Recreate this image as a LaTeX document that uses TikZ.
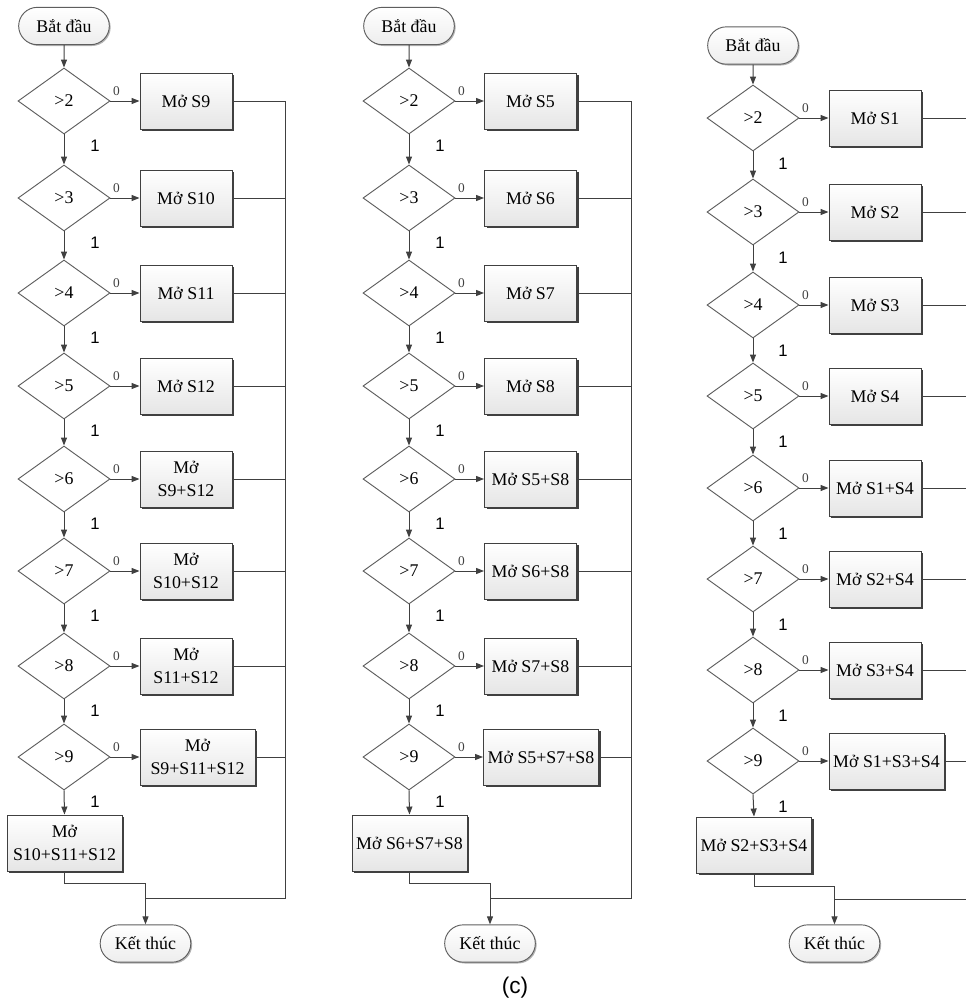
\documentclass[tikz,border=0pt]{standalone}
\usepackage{fontspec}
\setmainfont{Liberation Serif}
\newfontfamily\arialf{Liberation Sans}
\usetikzlibrary{shapes.geometric,shapes.misc,shadows,arrows.meta,calc}
\definecolor{ln}{HTML}{404040}
\definecolor{dg}{HTML}{5E5E5E}
\begin{document}
\begin{tikzpicture}[x=0.75pt,y=-0.75pt,
  every node/.style={font=\fontsize{13.4}{17}\selectfont},
  dec/.style={diamond, draw=dg, line width=0.7pt, minimum width=69pt, minimum height=49.5pt, inner sep=0pt},
  proc/.style={rectangle, draw=ln, line width=0.7pt, top color=white, bottom color=gray!20,
    drop shadow={shadow xshift=1.5pt, shadow yshift=-1.5pt, fill=ln, opacity=1},
    minimum width=69pt, minimum height=42pt, inner sep=1pt, align=center},
  wproc/.style={proc, minimum width=86.25pt},
  term/.style={rounded rectangle, draw=dg, line width=0.7pt, top color=white, bottom color=gray!14,
    drop shadow={shadow xshift=1pt, shadow yshift=-1pt, fill=gray, opacity=0.6},
    minimum width=70pt, minimum height=28pt, inner sep=1pt},
  flow/.style={draw=ln, line width=0.75pt},
  arr/.style={flow, -{Triangle[length=6pt,width=4.5pt]}},
  zero/.style={font=\fontsize{10}{11}\selectfont, text=ln},
  one/.style={font=\arialf\fontsize{12.5}{13}\selectfont, text=black}]
\useasboundingbox (0,0) rectangle (966,1004);

% ================= Column 1 =================
\node[term] (s1) at (64,26) {Bắt đầu};
\foreach \i/\y/\t in {1/101/{Mở S9},2/198/{Mở S10},3/293/{Mở S11},4/386/{Mở S12},5/479/{Mở\\S9+S12},6/571/{Mở\\S10+S12},7/666/{Mở\\S11+S12}}{
  \pgfmathtruncatemacro\n{\i+1}
  \node[dec] (a\i) at (64,\y) {>\n};
  \node[proc] (ab\i) at (186,\y) {\t};
}
\node[dec] (a8) at (64,757) {>9};
\node[wproc] (ab8) at (197.5,757) {Mở\\S9+S11+S12};
\node[wproc] (af) at (64.5,843) {Mở\\S10+S11+S12};
\node[term] (e1) at (145.5,943.5) {Kết thúc};
\coordinate (v1) at (285,898);

\draw[arr] (s1) -- (a1);
\foreach \i in {1,...,8}{
  \draw[arr] (a\i.east) -- (ab\i.west);
  \node[zero] at ($(a\i.east)+(6,-10)$) {0};
  \node[one] at ($(a\i.south)+(31,11)$) {1};
  \draw[flow] (ab\i.east) -- (ab\i.east -| v1);
}
\foreach \i in {1,...,7}{
  \pgfmathtruncatemacro\n{\i+1}
  \draw[arr] (a\i.south) -- (a\n.north);
}
\draw[arr] (a8.south) -- (af.north);
\draw[flow] (ab1.east -| v1) -- (v1) -- (e1.north |- v1);
\draw[arr] (af.south) -- ++(0,12) -| (e1.north);

% ================= Column 2 =================
\node[term] (s2) at (409,26) {Bắt đầu};
\foreach \i/\y/\t in {1/101/{Mở S5},2/198/{Mở S6},3/293/{Mở S7},4/386/{Mở S8},5/479/{Mở S5+S8},6/571/{Mở S6+S8},7/666/{Mở S7+S8}}{
  \pgfmathtruncatemacro\n{\i+1}
  \node[dec] (b\i) at (409,\y) {>\n};
  \node[proc] (bb\i) at (530.5,\y) {\t};
}
\node[dec] (b8) at (409,757) {>9};
\node[wproc] (bb8) at (541,757) {Mở S5+S7+S8};
\node[wproc] (bf) at (409.5,843) {Mở S6+S7+S8};
\node[term] (e2) at (490,943.5) {Kết thúc};
\coordinate (v2) at (631,898);

\draw[arr] (s2) -- (b1);
\foreach \i in {1,...,8}{
  \draw[arr] (b\i.east) -- (bb\i.west);
  \node[zero] at ($(b\i.east)+(6,-10)$) {0};
  \node[one] at ($(b\i.south)+(31,11)$) {1};
  \draw[flow] (bb\i.east) -- (bb\i.east -| v2);
}
\foreach \i in {1,...,7}{
  \pgfmathtruncatemacro\n{\i+1}
  \draw[arr] (b\i.south) -- (b\n.north);
}
\draw[arr] (b8.south) -- (bf.north);
\draw[flow] (bb1.east -| v2) -- (v2) -- (e2.north |- v2);
\draw[arr] (bf.south) -- ++(0,12) -| (e2.north);

% ================= Column 3 =================
\node[term] (s3) at (753,45.5) {Bắt đầu};
\foreach \i/\y/\t in {1/118/{Mở S1},2/212/{Mở S2},3/305/{Mở S3},4/396/{Mở S4},5/488/{Mở S1+S4},6/579/{Mở S2+S4},7/670/{Mở S3+S4}}{
  \pgfmathtruncatemacro\n{\i+1}
  \node[dec] (c\i) at (753,\y) {>\n};
  \node[proc] (cb\i) at (875,\y) {\t};
}
\node[dec] (c8) at (753,761) {>9};
\node[wproc] (cb8) at (886.5,761) {Mở S1+S3+S4};
\node[wproc] (cf) at (754,845) {Mở S2+S3+S4};
\node[term] (e3) at (834.5,943.5) {Kết thúc};
\coordinate (v3) at (966,899);

\draw[arr] (s3) -- (c1);
\foreach \i in {1,...,8}{
  \draw[arr] (c\i.east) -- (cb\i.west);
  \node[zero] at ($(c\i.east)+(6,-10)$) {0};
  \node[one] at ($(c\i.south)+(30,12)$) {1};
  \draw[flow] (cb\i.east) -- (cb\i.east -| v3);
}
\foreach \i in {1,...,7}{
  \pgfmathtruncatemacro\n{\i+1}
  \draw[arr] (c\i.south) -- (c\n.north);
}
\draw[arr] (c8.south) -- (cf.north);
\draw[flow] (v3) -- (e3.north |- v3);
\draw[arr] (cf.south) -- ++(0,13) -| (e3.north);

\node[font=\arialf\fontsize{17}{19}\selectfont] (cap) at (515,988) {(c)};
\end{tikzpicture}
\end{document}
